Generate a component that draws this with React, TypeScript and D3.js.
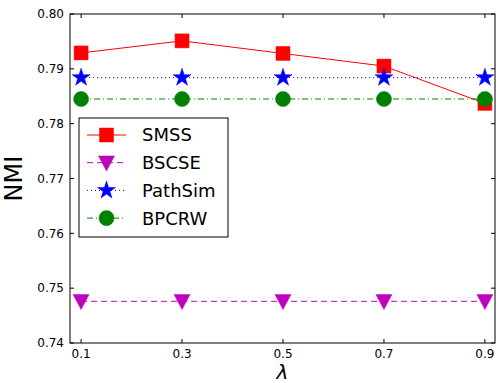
import React, { useRef, useEffect } from 'react';
import * as d3 from 'd3';

const lambdas = [0.1, 0.3, 0.5, 0.7, 0.9];
const smss = [0.7929, 0.7951, 0.7928, 0.7905, 0.7837];
const bscse = [0.7476, 0.7476, 0.7476, 0.7476, 0.7476];
const pathsim = [0.7884, 0.7884, 0.7884, 0.7884, 0.7884];
const bpcrw = [0.7845, 0.7845, 0.7845, 0.7845, 0.7845];
const yTicks = [0.74, 0.75, 0.76, 0.77, 0.78, 0.79, 0.8];

type Marker = 'square' | 'tridown' | 'star' | 'circle';

const series: { name: string; values: number[]; color: string; dash: string; marker: Marker }[] = [
  { name: 'SMSS', values: smss, color: '#ff0000', dash: '', marker: 'square' },
  { name: 'BSCSE', values: bscse, color: '#bf00bf', dash: '6,4', marker: 'tridown' },
  { name: 'PathSim', values: pathsim, color: '#0000ff', dash: '1,3', marker: 'star' },
  { name: 'BPCRW', values: bpcrw, color: '#008000', dash: '6,3,1,3', marker: 'circle' },
];

const markerPath = (m: Marker): string => {
  if (m === 'square') return d3.symbol(d3.symbolSquare, 196)() || '';
  if (m === 'circle') return d3.symbol(d3.symbolCircle, 180)() || '';
  if (m === 'star') return d3.symbol(d3.symbolStar, 100)() || '';
  // downward triangle
  const w = 8, h = 15;
  return `M${-w},${-h * 0.45}L${w},${-h * 0.45}L0,${h * 0.55}Z`;
};

export default function App() {
  const svgRef = useRef<SVGSVGElement>(null);
  const width = 498;
  const height = 383;
  const margin = { top: 14, right: 3, bottom: 40, left: 70 };

  useEffect(() => {
    if (!svgRef.current) return;
    const svg = d3.select(svgRef.current);
    svg.selectAll('*').remove();

    const innerWidth = width - margin.left - margin.right;
    const innerHeight = height - margin.top - margin.bottom;
    const g = svg.append('g').attr('transform', `translate(${margin.left},${margin.top})`);

    const x = d3.scaleLinear().domain([0.078, 0.92]).range([0, innerWidth]);
    const y = d3.scaleLinear().domain([0.74, 0.8]).range([innerHeight, 0]);
    const font = 'DejaVu Sans, sans-serif';

    // Lines and markers
    series.forEach(s => {
      const line = d3.line<number>().x((_, i) => x(lambdas[i])).y(d => y(d));
      g.append('path')
        .attr('d', line(s.values) || '')
        .attr('fill', 'none')
        .attr('stroke', s.color)
        .attr('stroke-width', 1)
        .attr('stroke-dasharray', s.dash);
      g.selectAll(null)
        .data(s.values)
        .enter()
        .append('path')
        .attr('d', markerPath(s.marker))
        .attr('transform', (d, i) => `translate(${x(lambdas[i])},${y(d)})`)
        .attr('fill', s.color)
        .attr('stroke', s.color)
        .attr('stroke-width', 0.5);
    });

    // Frame
    g.append('rect')
      .attr('width', innerWidth)
      .attr('height', innerHeight)
      .attr('fill', 'none')
      .attr('stroke', '#000')
      .attr('stroke-width', 1);

    // Ticks (inward, all four sides)
    const tl = 4;
    lambdas.forEach(v => {
      g.append('line').attr('x1', x(v)).attr('x2', x(v)).attr('y1', innerHeight).attr('y2', innerHeight - tl).attr('stroke', '#000');
      g.append('line').attr('x1', x(v)).attr('x2', x(v)).attr('y1', 0).attr('y2', tl).attr('stroke', '#000');
      g.append('text')
        .attr('x', x(v))
        .attr('y', innerHeight + 15)
        .attr('text-anchor', 'middle')
        .attr('font-family', font)
        .attr('font-size', 12)
        .text(String(v));
    });
    yTicks.forEach(v => {
      g.append('line').attr('x1', 0).attr('x2', tl).attr('y1', y(v)).attr('y2', y(v)).attr('stroke', '#000');
      g.append('line').attr('x1', innerWidth).attr('x2', innerWidth - tl).attr('y1', y(v)).attr('y2', y(v)).attr('stroke', '#000');
      g.append('text')
        .attr('x', -6)
        .attr('y', y(v))
        .attr('dy', '0.35em')
        .attr('text-anchor', 'end')
        .attr('font-family', font)
        .attr('font-size', 12)
        .text(v.toFixed(2));
    });

    // Axis labels
    g.append('text')
      .attr('transform', `translate(${-48},${innerHeight / 2}) rotate(-90)`)
      .attr('text-anchor', 'middle')
      .attr('font-family', font)
      .attr('font-size', 24)
      .text('NMI');
    g.append('text')
      .attr('x', innerWidth / 2)
      .attr('y', innerHeight + 36)
      .attr('text-anchor', 'middle')
      .attr('font-family', font)
      .attr('font-style', 'italic')
      .attr('font-size', 20)
      .text('λ');

    // Legend
    const lg = svg.append('g').attr('transform', 'translate(79,118)');
    lg.append('rect')
      .attr('width', 149)
      .attr('height', 119)
      .attr('fill', '#fff')
      .attr('stroke', '#000')
      .attr('stroke-width', 1);
    series.forEach((s, i) => {
      const cy = 17 + i * 27.7;
      lg.append('line')
        .attr('x1', 8).attr('x2', 47).attr('y1', cy).attr('y2', cy)
        .attr('stroke', s.color).attr('stroke-width', 1).attr('stroke-dasharray', s.dash);
      lg.append('path')
        .attr('d', markerPath(s.marker))
        .attr('transform', `translate(27.5,${cy})`)
        .attr('fill', s.color)
        .attr('stroke', s.color)
        .attr('stroke-width', 0.5);
      lg.append('text')
        .attr('x', 63)
        .attr('y', cy)
        .attr('dy', '0.36em')
        .attr('font-family', font)
        .attr('font-size', 18)
        .text(s.name);
    });
  }, []);

  return (
    <svg
      ref={svgRef}
      width={width}
      height={height}
      style={{ position: 'absolute', left: 0, top: 0, background: '#fff' }}
    />
  );
}
